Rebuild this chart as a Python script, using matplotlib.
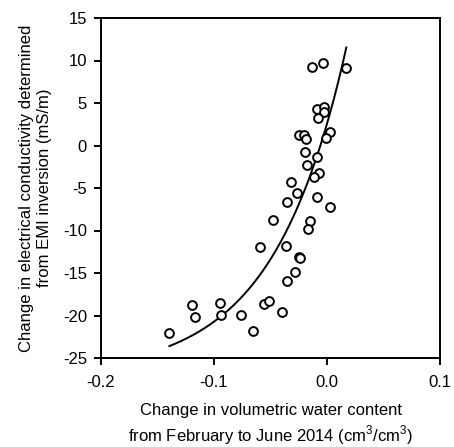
import numpy as np
import matplotlib
matplotlib.use("Agg")
import matplotlib.pyplot as plt

plt.rcParams["font.family"] = ["Liberation Sans", "DejaVu Sans"]
plt.rcParams["mathtext.fontset"] = "custom"
plt.rcParams["mathtext.rm"] = "Liberation Sans"

# change in volumetric water content (cm3/cm3)
dtheta = [
    -0.0135, -0.0038, 0.0168, -0.0091, -0.0027, -0.0024, -0.0080,
    -0.0248, -0.0200, -0.0189, 0.0027, -0.0009, -0.0195, -0.0088,
    -0.0177, -0.0074, -0.0112, -0.0316, -0.0263, -0.0351, -0.0086,
    0.0029, -0.0475, -0.0150, -0.0168, -0.0596, -0.0363, -0.0248,
    -0.0236, -0.0283, -0.0357, -0.1192, -0.0950, -0.0555, -0.0513,
    -0.1168, -0.0938, -0.0758, -0.0401, -0.0658, -0.1395,
]
# change in EC from EMI inversion (mS/m)
dec = [
    9.20, 9.67, 9.12, 4.26, 4.57, 3.98, 3.27,
    1.27, 1.27, 0.80, 1.62, 0.92, -0.80, -1.31,
    -2.33, -3.27, -3.74, -4.29, -5.62, -6.69, -6.10,
    -7.24, -8.76, -8.92, -9.82, -11.98, -11.82, -13.08,
    -13.24, -14.92, -15.94, -18.80, -18.57, -18.60, -18.33,
    -20.22, -19.90, -19.98, -19.62, -21.78, -22.02,
]

# trend line: y = fit_a * exp(fit_k * x) + fit_c
fit_a = 29.56
fit_k = 15.5
fit_c = -27.0
fit_range = (-0.1395, 0.0171)

fig = plt.figure(figsize=(4.54, 4.47), dpi=100)
ax = fig.add_axes([101 / 454, 1 - 358 / 447, 339 / 454, 340 / 447])

xs = np.linspace(fit_range[0], fit_range[1], 200)
ax.plot(xs, fit_a * np.exp(fit_k * xs) + fit_c, color="black", lw=1.4)
ax.scatter(dtheta, dec, s=40, facecolors="white", edgecolors="black",
           linewidths=1.4, zorder=3)

ax.set_xlim(-0.2, 0.1)
ax.set_ylim(-25, 15)
ax.set_xticks([-0.2, -0.1, 0.0, 0.1])
ax.set_xticklabels(["-0.2", "-0.1", "0.0", "0.1"])
ax.set_yticks(range(-25, 16, 5))
ax.set_yticklabels([str(v) for v in range(-25, 16, 5)])

for sp in ax.spines.values():
    sp.set_linewidth(1.4)
ax.tick_params(direction="out", length=5, width=1.4, labelsize=12)
ax.tick_params(axis="x", pad=7)
ax.tick_params(axis="y", pad=5)

ax.set_xlabel("Change in volumetric water content\n"
              "from February to June 2014 (cm$^3$/cm$^3$)",
              fontsize=12, labelpad=9.5, linespacing=1.3)
ax.set_ylabel("Change in electrical conductivity determined\n"
              "from EMI inversion (mS/m)", fontsize=12, labelpad=8,
              linespacing=1.2)

fig.savefig("out.png", dpi=100)
